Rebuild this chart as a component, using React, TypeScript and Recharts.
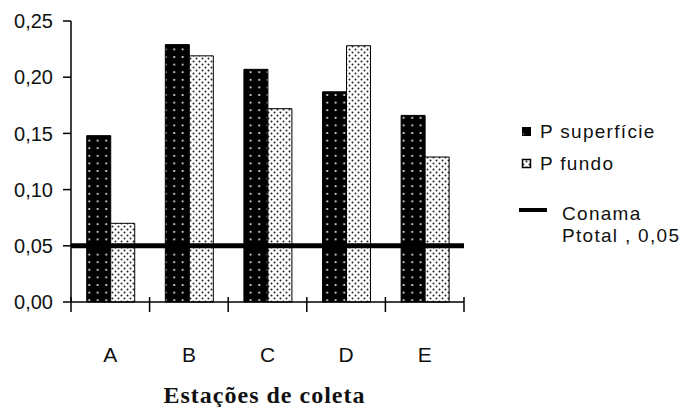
import { BarChart, Bar, XAxis, YAxis, ReferenceLine, Label } from "recharts";

const stations = ["A", "B", "C", "D", "E"];
const pSuperficie = [0.148, 0.229, 0.207, 0.187, 0.166];
const pFundo = [0.07, 0.219, 0.172, 0.228, 0.129];
const conamaLimit = 0.05;
const yTicks = [0, 0.05, 0.1, 0.15, 0.2, 0.25];

const data = stations.map((station, i) => ({
  station,
  superficie: pSuperficie[i],
  fundo: pFundo[i],
}));

const WIDTH = 686;
const HEIGHT = 407;
const MARGIN = { top: 21, right: 222, bottom: 0, left: 0 };
const Y_AXIS_W = 71;
const X_AXIS_H = 105;
const BAND = (WIDTH - MARGIN.right - MARGIN.left - Y_AXIS_W) / stations.length;

const SANS = "'Liberation Sans', Arial, sans-serif";
const SERIF = "'Liberation Serif', 'Times New Roman', serif";

// category ticks sit on the band boundaries, labels in the middle
function StationTick(props: any) {
  const { x, y, payload, index } = props;
  const left = x - BAND / 2;
  return (
    <g>
      <line x1={left} x2={left} y1={y - 5} y2={y + 10} stroke="#000" strokeWidth={1.5} />
      {index === stations.length - 1 && (
        <line x1={x + BAND / 2} x2={x + BAND / 2} y1={y - 5} y2={y + 10} stroke="#000" strokeWidth={1.5} />
      )}
      <text x={x} y={y + 60} textAnchor="middle" fontFamily={SANS} fontSize={21} fill="#111">
        {payload.value}
      </text>
    </g>
  );
}

function LegendBox() {
  const text = { fontFamily: SANS, fontSize: 19, letterSpacing: 1.3, fill: "#111" };
  return (
    <svg width={176} height={140} style={{ position: "absolute", left: 510, top: 115 }}>
      <rect x={12.5} y={12.5} width={8} height={8} fill="url(#dotsOnBlack)" stroke="#000" />
      <text x={30} y={23} {...text}>P superfície</text>
      <rect x={12.5} y={44.5} width={8} height={8} fill="url(#dotsOnWhite)" stroke="#000" strokeWidth={1.5} />
      <text x={30} y={55} {...text}>P fundo</text>
      <line x1={9} x2={37} y1={95} y2={95} stroke="#000" strokeWidth={4} />
      <text x={52} y={105} {...text}>Conama</text>
      <text x={52} y={127} {...text}>Ptotal , 0,05</text>
    </svg>
  );
}

export default function App() {
  return (
    <div style={{ position: "absolute", left: 0, top: 0, width: WIDTH, height: HEIGHT, background: "#fff" }}>
      <BarChart width={WIDTH} height={HEIGHT} data={data} margin={MARGIN} barCategoryGap="20%" barGap={0}>
        <defs>
          <pattern id="dotsOnBlack" width={8.5} height={7.6} patternUnits="userSpaceOnUse">
            <rect width={8.5} height={7.6} fill="#000" />
            <circle cx={4.2} cy={3.8} r={1} fill="#fff" />
          </pattern>
          <pattern id="dotsOnWhite" width={6} height={6} patternUnits="userSpaceOnUse">
            <rect width={6} height={6} fill="#fff" />
            <circle cx={1.5} cy={1.5} r={1} fill="#222" />
            <circle cx={4.5} cy={4.5} r={1} fill="#222" />
          </pattern>
        </defs>
        <XAxis
          dataKey="station"
          height={X_AXIS_H}
          axisLine={{ stroke: "#000", strokeWidth: 1.5 }}
          tickLine={false}
          tickSize={0}
          tickMargin={0}
          tick={<StationTick />}
          interval={0}
        >
          <Label
            content={({ viewBox }: any) => (
              <text
                x={viewBox.x + viewBox.width / 2 - 3}
                y={viewBox.y + 101}
                textAnchor="middle"
                fontFamily={SERIF}
                fontWeight="bold"
                fontSize={24}
                letterSpacing={1}
                fill="#111"
              >
                Estações de coleta
              </text>
            )}
          />
        </XAxis>
        <YAxis
          width={Y_AXIS_W}
          domain={[0, 0.25]}
          ticks={yTicks}
          interval={0}
          axisLine={{ stroke: "#000", strokeWidth: 1.5 }}
          tickLine={{ stroke: "#000", strokeWidth: 1.5 }}
          tickSize={8}
          tickMargin={10}
          tickFormatter={(v: number) => v.toFixed(2).replace(".", ",")}
          tick={{ fontFamily: SANS, fontSize: 20, fill: "#111" }}
        />
        <Bar dataKey="superficie" name="P superfície" fill="url(#dotsOnBlack)" stroke="#000" strokeWidth={1} isAnimationActive={false} />
        <Bar dataKey="fundo" name="P fundo" fill="url(#dotsOnWhite)" stroke="#000" strokeWidth={1} isAnimationActive={false} />
        <ReferenceLine y={conamaLimit} stroke="#000" strokeWidth={5} />
      </BarChart>
      <LegendBox />
    </div>
  );
}
